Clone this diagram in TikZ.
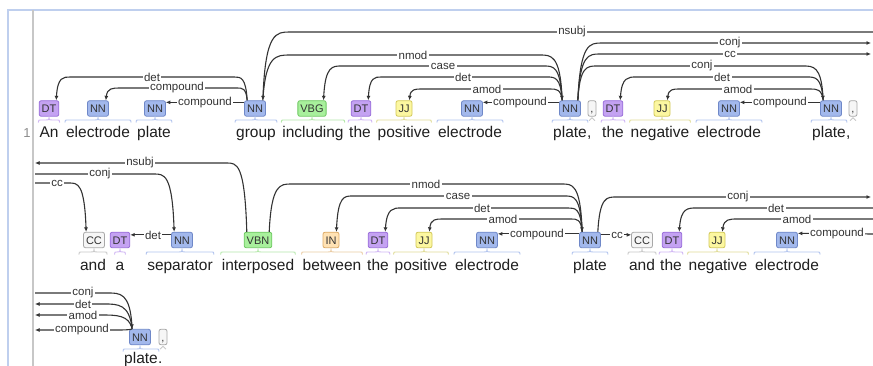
\documentclass[tikz,border=0pt]{standalone}
\usepackage{fontspec}
\setmainfont{Liberation Sans}
\usetikzlibrary{calc,arrows.meta}
\newcommand\wordfont{\fontsize{15.5}{18}\selectfont}
\newcommand\tagfont{\fontsize{11}{12}\selectfont}
\newcommand\lblfont{\fontsize{11.5}{12}\selectfont}
\definecolor{nnf}{HTML}{A2B8EC}\definecolor{nnd}{HTML}{6F88C8}\definecolor{nnb}{HTML}{B2C4EE}
\definecolor{dtf}{HTML}{C4A2F2}\definecolor{dtd}{HTML}{9A6FDA}\definecolor{dtb}{HTML}{D0B6F4}
\definecolor{vbf}{HTML}{A8F09C}\definecolor{vbd}{HTML}{6FC862}\definecolor{vbb}{HTML}{B4E8AA}
\definecolor{jjf}{HTML}{FCF7A0}\definecolor{jjd}{HTML}{D2C85A}\definecolor{jjb}{HTML}{E0DC98}
\definecolor{inf}{HTML}{FFE2B4}\definecolor{ind}{HTML}{DDAA66}\definecolor{inb}{HTML}{EACCA4}
\definecolor{ccf}{HTML}{F6F6F6}\definecolor{ccd}{HTML}{A8A8A8}\definecolor{ccb}{HTML}{C8C8C8}
\definecolor{linec}{HTML}{333333}\definecolor{framec}{HTML}{BFCFEE}
% tag node with attach points
\newcommand\tagn[5]{\node[tagbox,#1] (#2) at (#3,-#4) {#5};
  \coordinate (#2-l) at ($(#2.north west)+(3,0)$);
  \coordinate (#2-r) at ($(#2.north east)+(-3,0)$);}
% arc between two nodes, arrow at the end
\newcommand\deparc[7]{%
  \draw[dep,->] let \p1=(#1), \p2=(#2) in (\p1)
   .. controls ({\x1+0.1*(#4pt)},-#3pt) and ({\x1+0.5*(#4pt)},-#3pt) .. ({\x1+#4pt},-#3pt)
   -- ({\x2+#5pt},-#3pt)
   .. controls ({\x2+0.5*(#5pt)},-#3pt) and ({\x2+0.1*(#5pt)},-#3pt) .. (\p2);
  \node[lbl] at (#7,-#3) {#6};}
% arc between a node and an edge coordinate
\newcommand\edgearc[7]{%
  \draw[dep,#1] let \p1=(#2) in (\p1)
   .. controls ({\x1+0.1*(#5pt)},-#4pt) and ({\x1+0.5*(#5pt)},-#4pt) .. ({\x1+#5pt},-#4pt)
   -- (#3);
  \node[lbl] at (#7,-#4) {#6};}
% bracket between a tag and its word
\newcommand\wbrace[4]{%
  \draw[#1,line width=0.9pt] let \p1=(#2.west), \p2=(#2.east), \p3=(#3.south) in
   ({\x1-1pt},{-#4pt-2.5pt}) .. controls ({\x1-1pt},-#4pt) .. ({\x1+3pt},-#4pt)
   -- ({\x3-3pt},-#4pt) .. controls (\x3,-#4pt) .. (\x3,{-#4pt+2.5pt})
   .. controls (\x3,-#4pt) .. ({\x3+3pt},-#4pt)
   -- ({\x2-3pt},-#4pt) .. controls ({\x2+1pt},-#4pt) .. ({\x2+1pt},{-#4pt-2.5pt});}
\newcommand\pbrace[2]{%
  \draw[ccb,line width=0.9pt] ($(#1.south)+(-3,-#2)$) -- ($(#1.south)+(0,-1.2)$) -- ($(#1.south)+(3,-#2)$);}
\begin{document}
\begin{tikzpicture}[x=1pt,y=1pt,
  tagbox/.style={draw, rounded corners=2pt, minimum height=15.5pt, inner xsep=2.5pt, inner ysep=0pt,
    text height=8pt, text depth=0pt, font=\tagfont, text=black!80, line width=0.8pt},
  tnn/.style={fill=nnf,draw=nnd}, tdt/.style={fill=dtf,draw=dtd}, tvb/.style={fill=vbf,draw=vbd},
  tjj/.style={fill=jjf,draw=jjd}, tin/.style={fill=inf,draw=ind}, tcc/.style={fill=ccf,draw=ccd},
  tpct/.style={fill=ccf,draw=ccd,minimum width=8pt,inner xsep=1pt},
  word/.style={inner sep=0pt, font=\wordfont, text=black!88, anchor=base},
  dep/.style={draw=linec, line width=1.1pt, >={Latex[length=4.5pt,width=4pt]}},
  lbl/.style={fill=white, inner xsep=1.5pt, inner ysep=0pt, font=\lblfont, text=linec}]
\useasboundingbox (0,0) rectangle (873,-366);
\fill[white] (0,0) rectangle (873,-366);
% frame
\draw[framec, line width=2pt] (8,-366) -- (8,-10) -- (873,-10);
\draw[black!22, line width=1.5pt] (33,-10) -- (33,-366);
\node[font=\fontsize{13}{15}\selectfont, text=black!45, anchor=base] (ln) at (27,-138) {1};

% ---------- row 1 ----------
\tagn{tdt}{a1}{49}{108.5}{DT}
\tagn{tnn}{a2}{98}{108.5}{NN}
\tagn{tnn}{a3}{155}{108.5}{NN}
\tagn{tnn}{a4}{255}{108.5}{NN}
\tagn{tvb}{a5}{312}{108.5}{VBG}
\tagn{tdt}{a6}{361}{108.5}{DT}
\tagn{tjj}{a7}{404}{108.5}{JJ}
\tagn{tnn}{a8}{472}{108.5}{NN}
\tagn{tnn}{a9}{570}{108.5}{NN}
\tagn{tpct}{a10}{592}{108.5}{,}
\tagn{tdt}{a11}{613}{108.5}{DT}
\tagn{tjj}{a12}{662}{108.5}{JJ}
\tagn{tnn}{a13}{729}{108.5}{NN}
\tagn{tnn}{a14}{831}{108.5}{NN}
\tagn{tpct}{a15}{853}{108.5}{,}

\node[word] (w1) at (49,-138) {An};
\node[word] (w2) at (98,-138) {electrode};
\node[word] (w3) at (154,-138) {plate};
\node[word] (w4) at (256,-138) {group};
\node[word] (w5) at (313,-138) {including};
\node[word] (w6) at (360,-138) {the};
\node[word] (w7) at (404,-138) {positive};
\node[word] (w8) at (470,-138) {electrode};
\node[word] (w9) at (570,-138) {plate};
\node[word,anchor=base west] (w10) at (w9.base east) {,};
\node[word] (w11) at (613,-138) {the};
\node[word] (w12) at (660,-138) {negative};
\node[word] (w13) at (729,-138) {electrode};
\node[word] (w14) at (829,-138) {plate};
\node[word,anchor=base west] (w15) at (w14.base east) {,};

\wbrace{dtb}{w1}{a1}{120}
\wbrace{nnb}{w2}{a2}{120}
\wbrace{nnb}{w3}{a3}{120}
\wbrace{nnb}{w4}{a4}{120}
\wbrace{vbb}{w5}{a5}{120}
\wbrace{dtb}{w6}{a6}{120}
\wbrace{jjb}{w7}{a7}{120}
\wbrace{nnb}{w8}{a8}{120}
\wbrace{nnb}{w9}{a9}{120}
\pbrace{a10}{4}
\wbrace{dtb}{w11}{a11}{120}
\wbrace{jjb}{w12}{a12}{120}
\wbrace{nnb}{w13}{a13}{120}
\wbrace{nnb}{w14}{a14}{120}
\pbrace{a15}{4}

\coordinate (E1) at (873,-32);
\coordinate (E2) at (871,-43);
\coordinate (E3) at (871,-54);

\edgearc{<-}{a4-r}{E1}{32}{27}{nsubj}{572}
\deparc{a4-r}{a9-l}{55}{27}{-22}{nmod}{413}
\deparc{a9-l}{a5-r}{66}{-18}{18}{case}{443}
\deparc{a9-l}{a6-r}{77}{-15}{13}{det}{463}
\deparc{a9-l}{a7-r}{89}{-12}{12}{amod}{487}
\draw[dep,->] ($(a9.north west)+(0,-2)$) -- ($(a8.north east)+(0,-2)$);
\node[lbl] at (520,-103) {compound};
\deparc{a4-l}{a1-r}{77}{-13}{14}{det}{152}
\deparc{a4-l}{a2-r}{88}{-10}{14}{compound}{177}
\draw[dep,->] ($(a4.north west)+(0,-2)$) -- ($(a3.north east)+(0,-2)$);
\node[lbl] at (205,-103) {compound};
\edgearc{->}{a9-r}{E2}{43}{24}{conj}{730}
\edgearc{->}{a9-r}{E3}{54}{22}{cc}{730}
\deparc{a9-r}{a14-l}{66}{19}{-20}{conj}{702}
\deparc{a14-l}{a11-r}{77}{-16}{16}{det}{722}
\deparc{a14-l}{a12-r}{89}{-13}{12}{amod}{738}
\draw[dep,->] ($(a14.north west)+(0,-2)$) -- ($(a13.north east)+(0,-2)$);
\node[lbl] at (780,-103) {compound};

% ---------- row 2 ----------
\tagn{tcc}{b1}{94}{240}{CC}
\tagn{tdt}{b2}{120}{240}{DT}
\tagn{tnn}{b3}{182}{240}{NN}
\tagn{tvb}{b4}{258}{240}{VBN}
\tagn{tin}{b5}{331}{240}{IN}
\tagn{tdt}{b6}{378}{240}{DT}
\tagn{tjj}{b7}{424}{240}{JJ}
\tagn{tnn}{b8}{487}{240}{NN}
\tagn{tnn}{b9}{590}{240}{NN}
\tagn{tcc}{b10}{642}{240}{CC}
\tagn{tdt}{b11}{672}{240}{DT}
\tagn{tjj}{b12}{717}{240}{JJ}
\tagn{tnn}{b13}{787}{240}{NN}

\node[word] (v1) at (93,-270) {and};
\node[word] (v2) at (120,-270) {a};
\node[word] (v3) at (180,-270) {separator};
\node[word] (v4) at (258,-270) {interposed};
\node[word] (v5) at (332,-270) {between};
\node[word] (v6) at (378,-270) {the};
\node[word] (v7) at (421,-270) {positive};
\node[word] (v8) at (487,-270) {electrode};
\node[word] (v9) at (590,-270) {plate};
\node[word] (v10) at (642,-270) {and};
\node[word] (v11) at (671,-270) {the};
\node[word] (v12) at (718,-270) {negative};
\node[word] (v13) at (787,-270) {electrode};

\wbrace{ccb}{v1}{b1}{252}
\wbrace{dtb}{v2}{b2}{252}
\wbrace{nnb}{v3}{b3}{252}
\wbrace{vbb}{v4}{b4}{252}
\wbrace{inb}{v5}{b5}{252}
\wbrace{dtb}{v6}{b6}{252}
\wbrace{jjb}{v7}{b7}{252}
\wbrace{nnb}{v8}{b8}{252}
\wbrace{nnb}{v9}{b9}{252}
\wbrace{ccb}{v10}{b10}{252}
\wbrace{dtb}{v11}{b11}{252}
\wbrace{jjb}{v12}{b12}{252}
\wbrace{nnb}{v13}{b13}{252}

\coordinate (F1) at (35,-163);
\coordinate (F2) at (35,-174);
\coordinate (F3) at (35,-183);
\coordinate (F4) at (871,-197);
\coordinate (F5) at (873,-208);
\coordinate (F6) at (873,-219);
\coordinate (F7) at (873,-234);

\edgearc{->}{b4-l}{F1}{163}{-20}{nsubj}{140}
\edgearc{<-}{b3-l}{F2}{174}{-20}{conj}{100}
\edgearc{<-}{b1-l}{F3}{183}{-17}{cc}{57}
\draw[dep,->] ($(b3.north west)+(0,-3)$) -- ($(b2.north east)+(0,-3)$);
\node[lbl] at (153,-235.5) {det};
\deparc{b4-r}{b9-l}{184}{22}{-20}{nmod}{426}
\deparc{b9-l}{b5-r}{196}{-17}{16}{case}{458}
\deparc{b9-l}{b6-r}{208}{-14}{16}{det}{482}
\deparc{b9-l}{b7-r}{219}{-11}{13}{amod}{503}
\draw[dep,->] ($(b9.north west)+(0,-2)$) -- ($(b8.north east)+(0,-2)$);
\node[lbl] at (537,-234.5) {compound};
\edgearc{->}{b9-r}{F4}{197}{18}{conj}{738}
\draw[dep,->] ($(b9.north east)+(0,-3)$) -- ($(b10.north west)+(0,-3)$);
\node[lbl] at (617,-235.5) {cc};
\edgearc{<-}{b11-r}{F5}{208}{17}{det}{776}
\edgearc{<-}{b12-r}{F6}{219}{15}{amod}{797}
\draw[dep,->] (F7) -- ($(b13.north east)+(0,-1.5)$);
\node[lbl] at (837,-234) {compound};

% ---------- row 3 ----------
\tagn{tnn}{c1}{140}{337}{NN}
\tagn{tpct}{c2}{163}{337}{,}
\node[word] (x1) at (141,-363) {plate};
\node[word,anchor=base west] (x2) at (x1.base east) {.};
\wbrace{nnb}{x1}{c1}{349}
\pbrace{c2}{4}

\coordinate (G1) at (35,-293);
\coordinate (G2) at (35,-304);
\coordinate (G3) at (35,-315);
\coordinate (G4) at (35,-330);
\edgearc{<-}{c1-l}{G1}{293}{-24}{conj}{83}
\edgearc{->}{c1-l}{G2}{304}{-28}{det}{83}
\edgearc{->}{c1-l}{G3}{315}{-31}{amod}{83}
\edgearc{->}{c1-l}{G4}{330}{-18}{compound}{82}
\end{tikzpicture}
\end{document}
